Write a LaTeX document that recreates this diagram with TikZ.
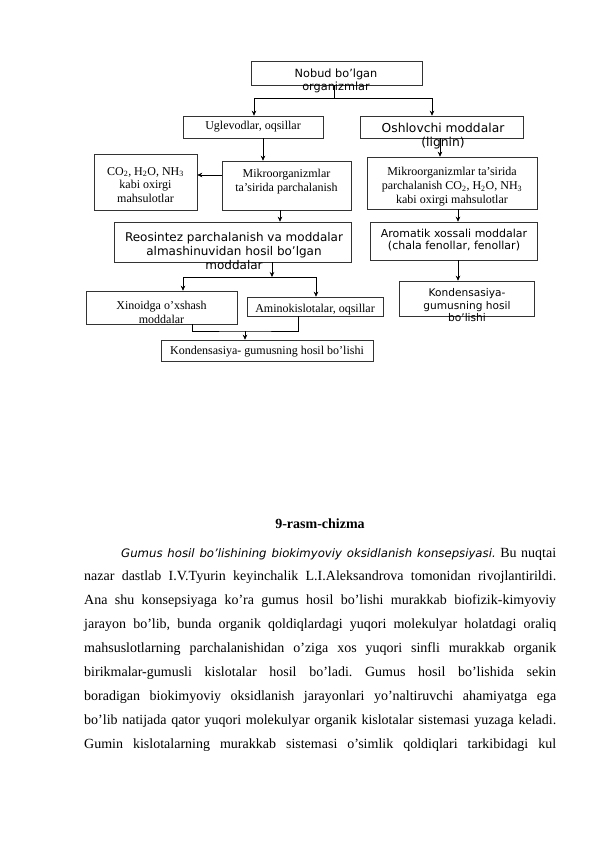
\documentclass[tikz,border=0pt]{standalone}
\usepackage{fontspec}
\setmainfont{Liberation Serif}
\newfontfamily\dejavu{DejaVu Sans}
\usetikzlibrary{arrows.meta}
\frenchspacing
\begin{document}
\begin{tikzpicture}[x=1pt,y=-1pt,
  box/.style={draw=black!80,line width=0.6pt,inner sep=0pt},
  serif/.style={inner sep=0pt,align=center,font=\fontsize{12}{13.8}\selectfont},
  sans/.style={inner sep=0pt,align=center,font=\dejavu\fontsize{11.3}{13}\selectfont},
  line/.style={draw=black,line width=0.6pt},
  arr/.style={line,-{Stealth[length=5pt,width=4.5pt]}},
  body/.style={inner sep=0pt,anchor=base west,font=\frenchspacing\fontsize{14}{16}\selectfont}]
\useasboundingbox (0,0) rectangle (596,842);
\fill[white] (0,0) rectangle (596,842);

% ---------- boxes ----------
\node[box,minimum width=171pt,minimum height=24pt] (nobud) at (336.5,73) {};
\node[sans] (nobudT) at (336,80.5) {Nobud bo’lgan\\organizmlar};

\node[box,minimum width=140pt,minimum height=22pt] (ugl) at (253,127) {};
\node[serif] (uglT) at (253,127) {Uglevodlar, oqsillar};

\node[box,minimum width=163pt,minimum height=22pt] (osh) at (441.5,127) {};
\node[sans,font=\dejavu\fontsize{12.3}{14}\selectfont] (oshT) at (443,136) {Oshlovchi moddalar\\(lignin)};

\node[box,minimum width=103pt,minimum height=56pt] (co2) at (145.5,182) {};
\node[serif] (co2T) at (145.5,185) {CO\textsubscript{2}, H\textsubscript{2}O, NH\textsubscript{3}\\kabi oxirgi\\mahsulotlar};

\node[box,minimum width=129pt,minimum height=49pt] (mik1) at (286.5,185.5) {};
\node[serif] (mik1T) at (286.5,182) {Mikroorganizmlar\\ta’sirida parchalanish};

\node[box,minimum width=170pt,minimum height=52pt] (mik2) at (452,183) {};
\node[serif] (mik2T) at (452,186.5) {Mikroorganizmlar ta’sirida\\parchalanish CO\textsubscript{2}, H\textsubscript{2}O, NH\textsubscript{3}\\kabi oxirgi mahsulotlar};

\node[box,minimum width=237pt,minimum height=40pt] (reo) at (232.5,242) {};
\node[sans,font=\dejavu\fontsize{12}{14}\selectfont] (reoT) at (234,251.5) {Reosintez parchalanish va moddalar\\almashinuvidan hosil bo’lgan\\moddalar};

\node[box,minimum width=167pt,minimum height=38pt] (aro) at (453.5,241) {};
\node[sans,font=\dejavu\fontsize{11}{12}\selectfont] (aroT) at (454,240) {Aromatik xossali moddalar\\(chala fenollar, fenollar)};

\node[box,minimum width=135pt,minimum height=35pt] (kon2) at (466.5,298.5) {};
\node[sans,font=\dejavu\fontsize{10.6}{12.5}\selectfont] (kon2T) at (467,305.5) {Kondensasiya-\\gumusning hosil\\bo’lishi};

\node[box,minimum width=151pt,minimum height=33pt] (xin) at (161.5,307.5) {};
\node[serif] (xinT) at (161.5,312) {Xinoidga o’xshash\\moddalar};

\node[box,minimum width=136pt,minimum height=19pt] (ami) at (315,306.5) {};
\node[serif] (amiT) at (315,310) {Aminokislotalar, oqsillar};

\node[box,minimum width=212pt,minimum height=21pt] (kon1) at (267,350.5) {};
\node[serif] (kon1T) at (267,352) {Kondensasiya- gumusning hosil bo’lishi};

% ---------- connectors ----------
\coordinate (j1) at (334,98);
\draw[line] (nobud.south -| j1) -- (j1);
\draw[arr] (j1) -| ([xshift=1pt]ugl.north);
\draw[arr] (j1) -| ([xshift=-9.5pt]osh.north);

\draw[arr] ([xshift=10pt]ugl.south) -- ([xshift=10pt]ugl.south |- mik1.north);
\draw[arr] (mik1.west |- 0,175) -- (co2.east |- 0,175);
\draw[arr] ([xshift=-6.5pt]mik1.south) -- ([xshift=-6.5pt]mik1.south |- reo.north);

\draw[arr] ([xshift=-1.5pt]osh.south) -- ([xshift=-1.5pt]osh.south |- mik2.north);
\draw[arr] ([xshift=6pt]mik2.south) -- ([xshift=6pt]mik2.south |- aro.north);
\draw[arr] ([xshift=4.5pt]aro.south) -- ([xshift=4.5pt]aro.south |- kon2.north);

\coordinate (j2) at (272,277);
\draw[arr] (reo.south -| j2) -- (j2);
\draw[arr] (j2) -| ([xshift=21.5pt]xin.north);
\draw[arr] (j2) -| ([xshift=1pt]ami.north);

\coordinate (j3) at (245,331);
\draw[line] ([xshift=30.5pt]xin.south) |- (j3) -| ([xshift=-17pt]ami.south);
\draw[arr] (j3) -- (kon1.north -| j3);

% ---------- caption and text ----------
\node[inner sep=0pt,anchor=base,font=\bfseries\fontsize{14}{16}\selectfont] (cap) at (320,528) {9-rasm-chizma};

\node[body] (b1) at (84,557) {\hbox to 472pt{\hspace*{37pt}{\dejavu\itshape\fontsize{11.7}{14}\selectfont Gumus hosil bo’lishining biokimyoviy oksidlanish konsepsiyasi.} Bu nuqtai}};
\node[body] (b2) at (84,580.9) {\hbox to 472pt{nazar dastlab I.V.Tyurin keyinchalik L.I.Aleksandrova tomonidan rivojlantirildi.}};
\node[body] (b3) at (84,604.8) {\hbox to 472pt{Ana shu konsepsiyaga ko’ra gumus hosil bo’lishi murakkab biofizik-kimyoviy}};
\node[body] (b4) at (84,628.7) {\hbox to 472pt{jarayon bo’lib, bunda organik qoldiqlardagi yuqori molekulyar holatdagi oraliq}};
\node[body] (b5) at (84,652.6) {\hbox to 472pt{mahsuslotlarning parchalanishidan o’ziga xos yuqori sinfli murakkab organik}};
\node[body] (b6) at (84,676.5) {\hbox to 472pt{birikmalar-gumusli kislotalar hosil bo’ladi. Gumus hosil bo’lishida sekin}};
\node[body] (b7) at (84,700.4) {\hbox to 472pt{boradigan biokimyoviy oksidlanish jarayonlari yo’naltiruvchi ahamiyatga ega}};
\node[body] (b8) at (84,724.3) {\hbox to 472pt{bo’lib natijada qator yuqori molekulyar organik kislotalar sistemasi yuzaga keladi.}};
\node[body] (b9) at (84,748.2) {\hbox to 472pt{Gumin kislotalarning murakkab sistemasi o’simlik qoldiqlari tarkibidagi kul}};
\end{tikzpicture}
\end{document}
